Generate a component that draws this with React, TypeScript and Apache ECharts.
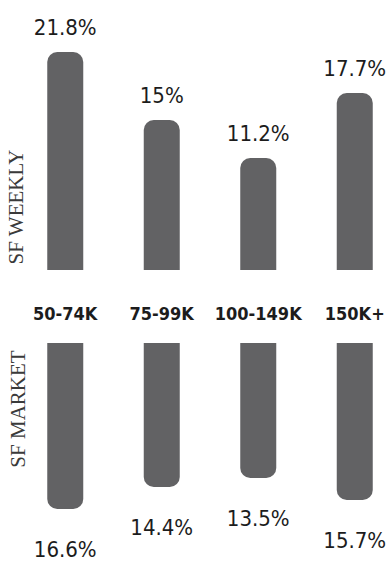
import React, { useEffect, useRef } from "react";
import * as echarts from "echarts";

const categories = ["50-74K", "75-99K", "100-149K", "150K+"];
const sfWeekly = [21.8, 15, 11.2, 17.7];
const sfMarket = [16.6, 14.4, 13.5, 15.7];
const panelTitles = ["SF WEEKLY", "SF MARKET"];

const BAR = "#626264";
const INK = "#1c1c1c";
const NARROW = "'DejaVu Sans Condensed', 'Liberation Sans Narrow', sans-serif";

export default function App() {
  const ref = useRef<HTMLDivElement>(null);
  useEffect(() => {
    document.body.style.margin = "0";
    const chart = echarts.init(ref.current!, null, { renderer: "svg" });
    chart.setOption({
      animation: false,
      backgroundColor: "#ffffff",
      grid: [
        { left: 17, width: 386, top: 20, height: 250, outerBoundsMode: "none", containLabel: false },
        { left: 17, width: 386, top: 343, height: 200, outerBoundsMode: "none", containLabel: false },
      ],
      xAxis: [
        {
          gridIndex: 0,
          type: "category",
          data: categories,
          axisLine: { show: false },
          axisTick: { show: false },
          axisLabel: {
            interval: 0,
            margin: 34,
            fontFamily: NARROW,
            fontWeight: "bold",
            fontSize: 18,
            color: INK,
          },
        },
        {
          gridIndex: 1,
          type: "category",
          data: categories,
          axisLine: { show: false },
          axisTick: { show: false },
          axisLabel: { show: false },
        },
      ],
      yAxis: [
        { gridIndex: 0, type: "value", min: 0, max: 25, show: false },
        { gridIndex: 1, type: "value", min: 0, max: 20, inverse: true, show: false },
      ],
      series: [
        {
          type: "bar",
          xAxisIndex: 0,
          yAxisIndex: 0,
          data: sfWeekly,
          barWidth: 36,
          itemStyle: { color: BAR, borderRadius: [10, 10, 0, 0] },
          label: {
            show: true,
            position: "top",
            distance: 14,
            formatter: (p: any) => p.value + "%",
            fontFamily: NARROW,
            fontSize: 22,
            color: INK,
          },
        },
        {
          type: "bar",
          xAxisIndex: 1,
          yAxisIndex: 1,
          data: sfMarket,
          barWidth: 36,
          itemStyle: { color: BAR, borderRadius: [0, 0, 10, 10] },
          label: {
            show: true,
            position: "bottom",
            distance: 29,
            formatter: (p: any) => p.value + "%",
            fontFamily: NARROW,
            fontSize: 22,
            color: INK,
          },
        },
      ],
      graphic: [
        {
          type: "text",
          x: 16,
          y: 207,
          rotation: Math.PI / 2,
          style: {
            text: panelTitles[0],
            fontFamily: "'Liberation Serif', serif",
            fontSize: 21,
            fill: "#3a3a3a",
            align: "center",
            verticalAlign: "middle",
          },
        },
        {
          type: "text",
          x: 18,
          y: 409,
          rotation: Math.PI / 2,
          style: {
            text: panelTitles[1],
            fontFamily: "'Liberation Serif', serif",
            fontSize: 21,
            fill: "#3a3a3a",
            align: "center",
            verticalAlign: "middle",
          },
        },
      ],
    });
    return () => chart.dispose();
  }, []);
  return <div ref={ref} style={{ width: 391, height: 562 }} />;
}
